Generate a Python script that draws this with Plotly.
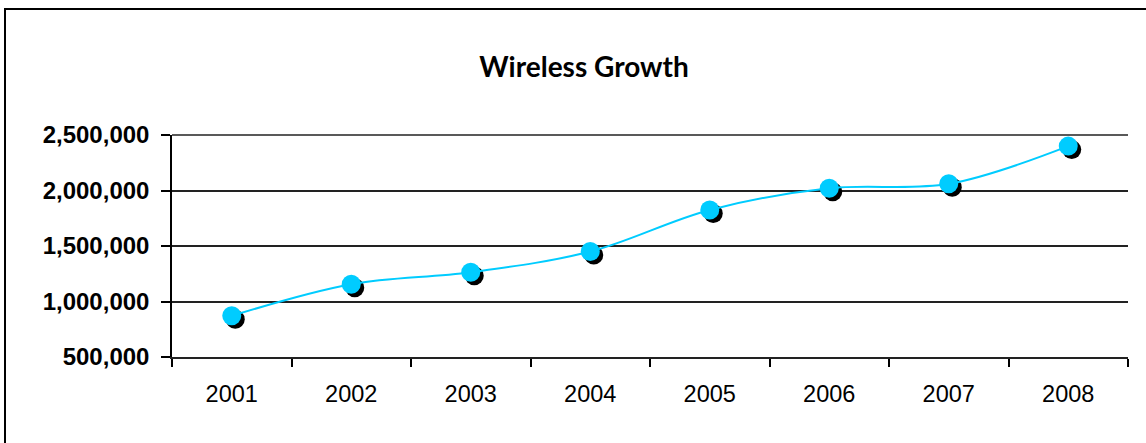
import plotly.graph_objects as go

years = ["2001", "2002", "2003", "2004", "2005", "2006", "2007", "2008"]
subscribers = [871000, 1156000, 1264000, 1450000, 1825000, 2020000, 2060000, 2400000]
y_ticks = [500000, 1000000, 1500000, 2000000, 2500000]

W, H = 1146, 443
ML, MR, MT, MB = 172, 18, 135, 86
PW, PH = W - ML - MR, H - MT - MB
SHADOW = 3.5  # px offset of marker shadow

CYAN = "#00CCFF"

yr = [y_ticks[0], y_ticks[-1]]
xr = [-0.5, len(years) - 0.5]
# shadow axes: same domain, ranges shifted so marks appear SHADOW px right/down
sx = SHADOW / PW * (xr[1] - xr[0])
sy = SHADOW / PH * (yr[1] - yr[0])
xr2 = [xr[0] - sx, xr[1] - sx]
yr2 = [yr[0] + sy, yr[1] + sy]

fig = go.Figure()
fig.add_trace(go.Scatter(x=years, y=subscribers, mode="markers",
                         marker=dict(size=19, color="black", line=dict(width=0)),
                         xaxis="x2", yaxis="y2", hoverinfo="skip", showlegend=False))
fig.add_trace(go.Scatter(x=years, y=subscribers, mode="lines+markers",
                         line=dict(color=CYAN, width=2, shape="spline", smoothing=1),
                         marker=dict(size=19, color=CYAN, line=dict(width=0)),
                         xaxis="x3", yaxis="y3", showlegend=False))
fig.add_trace(go.Scatter(x=years, y=subscribers, mode="none", xaxis="x", yaxis="y",
                         showlegend=False, hoverinfo="skip"))

fig.update_layout(
    width=W, height=H,
    margin=dict(l=ML, r=MR, t=MT, b=MB),
    paper_bgcolor="white", plot_bgcolor="rgba(0,0,0,0)",
    title=dict(text="<b>Wireless Growth</b>", x=584 / W, y=1 - 67 / H,
               xanchor="center", yanchor="middle", xref="container", yref="container",
               font=dict(family="Lato", size=28, color="black")),
    xaxis=dict(type="category", categoryorder="array", categoryarray=years, range=xr,
               domain=[0, 1], tickson="boundaries", ticks="outside", ticklen=8,
               tickwidth=1.5, tickcolor="black", showline=True, linecolor="#222",
               linewidth=1.5, showgrid=False, ticklabelstandoff=15,
               tickfont=dict(family="Liberation Sans, Arial", size=23.5, color="black")),
    yaxis=dict(range=yr, tickvals=y_ticks, tickformat=",", domain=[0, 1],
               ticks="outside", ticklen=9, tickwidth=1.5, tickcolor="black",
               showline=True, linecolor="black", linewidth=1.5,
               showgrid=True, gridcolor="#222", gridwidth=1.5, zeroline=False,
               ticklabelstandoff=7,
               tickfont=dict(family="Liberation Sans, Arial", size=24, color="black",
                             weight="bold")),
    xaxis2=dict(type="category", categoryorder="array", categoryarray=years, range=xr2,
                domain=[0, 1], anchor="y2", visible=False),
    yaxis2=dict(range=yr2, domain=[0, 1], anchor="x2", visible=False),
    xaxis3=dict(type="category", categoryorder="array", categoryarray=years, range=xr,
                domain=[0, 1], anchor="y3", visible=False),
    yaxis3=dict(range=yr, domain=[0, 1], anchor="x3", visible=False),
    shapes=[
        dict(type="rect", xref="paper", yref="paper",
             x0=(5 - ML) / PW, x1=(W + 4 - ML) / PW,
             y0=-(MB + 4) / PH, y1=1 + (MT - 9) / PH,
             line=dict(color="black", width=2), layer="below"),
        # top gridline at the top of the plot area (plotly hides the edge gridline)
        dict(type="line", xref="paper", yref="paper", x0=0, x1=1,
             y0=1, y1=1, line=dict(color="#222", width=1.5),
             layer="below"),
    ],
)

fig.write_html("out.html")
